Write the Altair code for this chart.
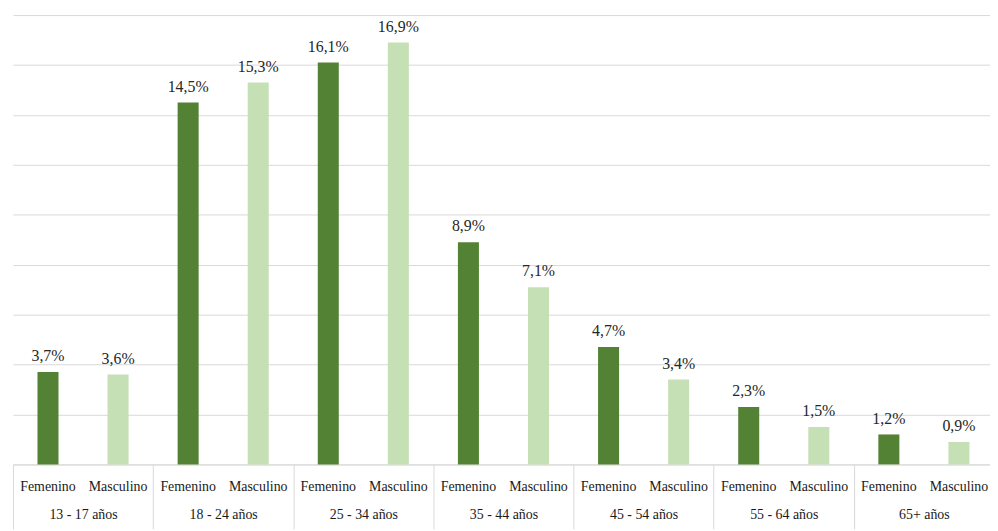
import altair as alt
import pandas as pd

ages = ["13 - 17 años", "18 - 24 años", "25 - 34 años", "35 - 44 años",
        "45 - 54 años", "55 - 64 años", "65+ años"]
genders = ["Femenino", "Masculino"]
femenino = [3.7, 14.5, 16.1, 8.9, 4.7, 2.3, 1.2]
masculino = [3.6, 15.3, 16.9, 7.1, 3.4, 1.5, 0.9]

rows = []
for a, f, m in zip(ages, femenino, masculino):
    for g, v in zip(genders, [f, m]):
        rows.append({"age": a, "gender": g, "key": a + "|" + g, "value": v,
                     "label": f"{v:.1f}".replace(".", ",") + "%"})
df = pd.DataFrame(rows)
keys = list(df["key"])
df_age = pd.DataFrame({"age": ages})

FONT = "Liberation Serif"
GRID = "#d9d9d9"
RANGE = [0, 989]

x_key = alt.X("key:N", sort=keys,
              scale=alt.Scale(range=RANGE, paddingInner=0.7, paddingOuter=0.35),
              axis=alt.Axis(orient="bottom", title=None, labelAngle=0,
                            labelExpr="split(datum.value, '|')[1]",
                            ticks=False, domain=True, domainColor=GRID,
                            labelFont=FONT, labelFontSize=14, labelColor="#1a1a1a",
                            labelPadding=15, grid=False))
y_val = alt.Y("value:Q", scale=alt.Scale(domain=[0, 18], nice=False),
              axis=alt.Axis(values=list(range(0, 20, 2)), grid=True, gridColor=GRID,
                            labels=False, ticks=False, domain=False, title=None))

base = alt.Chart(df).encode(x=x_key, y=y_val)
bars = base.mark_bar().encode(
    color=alt.Color("gender:N", scale=alt.Scale(domain=genders, range=["#548235", "#c5e0b4"]),
                    legend=None),
)
text = base.mark_text(dy=-8, baseline="bottom", font=FONT, fontSize=16,
                      color="#262626").encode(text="label:N")
main = alt.layer(bars, text)

groups = alt.Chart(df_age).mark_rule(opacity=0).encode(
    x=alt.X("age:N", sort=ages,
            scale=alt.Scale(range=RANGE, paddingInner=0, paddingOuter=0),
            axis=alt.Axis(orient="bottom", title=None, labelAngle=0,
                          tickBand="extent", tickSize=65, tickColor=GRID,
                          domain=False, labelFont=FONT, labelFontSize=14,
                          labelColor="#1a1a1a", labelPadding=-21, grid=False))
)

chart = alt.layer(main, groups).resolve_scale(x="independent").resolve_axis(
    x="independent"
).properties(
    width=985, height=453,
    autosize=alt.AutoSizeParams(type="none"),
    padding={"left": 5, "top": 5, "right": 0, "bottom": 65},
).configure_view(stroke=None)

chart.save("out.html", embed_options={"renderer": "svg", "actions": False})
